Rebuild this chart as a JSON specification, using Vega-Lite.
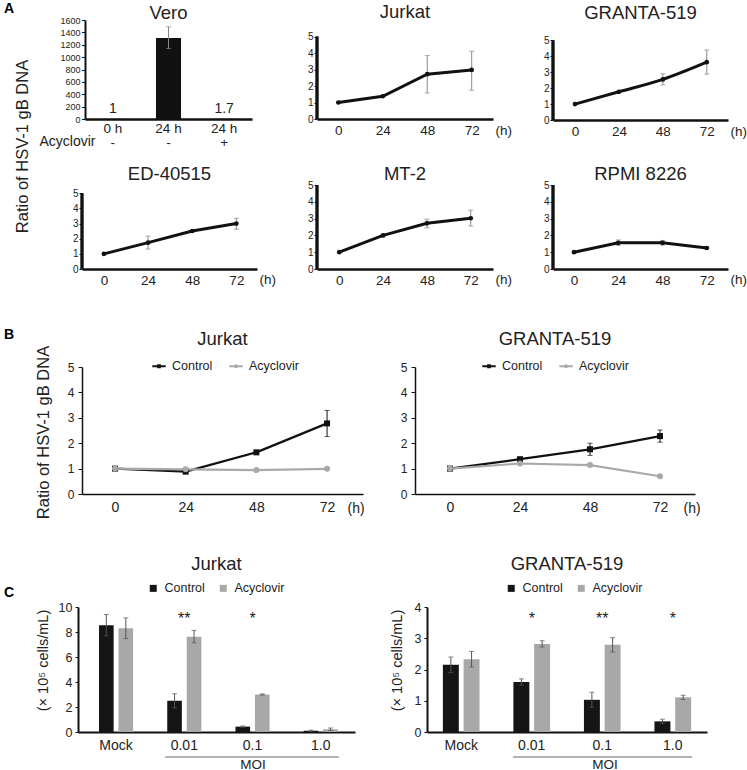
{
 "$schema": "https://vega.github.io/schema/vega-lite/v6.json",
 "padding": {"left": 4, "top": 2, "right": 0, "bottom": 0},
 "spacing": 0,
 "bounds": "flush",
 "align": "none",
 "resolve": {"scale": {"color": "independent", "xOffset": "independent"}, "legend": {"color": "independent"}},
 "config": {
  "view": {"stroke": null},
  "font": "Liberation Sans",
  "title": {"fontSize": 18.5, "fontWeight": "normal", "color": "#222", "baseline": "alphabetic", "frame": "group", "font": "Liberation Sans"},
  "axis": {"grid": false, "labelOverlap": false, "tickCount": 20, "domainColor": "#111", "tickColor": "#111", "labelColor": "#222", "titleColor": "#222", "titleFontWeight": "normal", "labelFont": "Liberation Sans", "titleFont": "Liberation Sans"},
  "legend": {"labelFont": "Liberation Sans", "labelColor": "#222", "padding": 0}
 },
 "vconcat": [
 {
 "hconcat": [
  {"width": 81, "height": 1, "data": {"values": []}, "mark": "point", "title": {"text": "A", "anchor": "start", "fontSize": 14, "fontWeight": "bold", "offset": 4, "color": "#000"}},
  {
   "width": 167, "height": 99,
   "title": {"text": "Vero", "offset": -6.5},
   "data": {"values": [
    {"c": "c1", "v": 1, "lab": "1"},
    {"c": "c2", "v": 1310, "lo": 1140, "hi": 1490},
    {"c": "c3", "v": 1.7, "lab": "1.7"}
   ]},
   "encoding": {"x": {"field": "c", "type": "nominal", "sort": null, "scale": {"paddingInner": 0.55, "paddingOuter": 0.275},
     "axis": {"labelAngle": 0, "ticks": false, "domainWidth": 2.5, "labelPadding": 2, "labelFontSize": 13.5, "labelLineHeight": 14, "labelBaseline": "top", "labelOverlap": false,
      "labelExpr": "datum.value == 'c1' ? ['0 h', '-'] : datum.value == 'c2' ? ['24 h', '-'] : ['24 h', '+']",
      "title": "Acyclovir", "titleX": 10, "titleY": 22, "titleAlign": "right", "titleBaseline": "middle", "titleFontSize": 14}}},
   "layer": [
    {"mark": {"type": "bar", "color": "#111"},
     "encoding": {"y": {"field": "v", "type": "quantitative", "scale": {"domain": [0, 1600], "nice": false},
      "axis": {"values": [0, 200, 400, 600, 800, 1000, 1200, 1400, 1600], "tickCount": 20, "format": "d", "labelOverlap": false, "domainWidth": 2, "tickSize": 3.5, "labelFontSize": 9, "labelPadding": 1.5,
       "title": "Ratio of HSV-1 gB DNA", "titleX": -63, "titleY": 126, "titleAngle": 270, "titleAlign": "center", "titleBaseline": "middle", "titleFontSize": 16.5}}}},
    {"transform": [{"filter": "isValid(datum.lo)"}], "mark": {"type": "rule", "color": "#888", "strokeWidth": 1},
     "encoding": {"y": {"field": "lo", "type": "quantitative"}, "y2": {"field": "hi"}}},
    {"transform": [{"filter": "isValid(datum.lo)"}, {"fold": ["lo", "hi"], "as": ["k", "ev"]}], "mark": {"type": "tick", "orient": "horizontal", "size": 5, "thickness": 1, "color": "#888"},
     "encoding": {"y": {"field": "ev", "type": "quantitative"}}},
    {"transform": [{"filter": "isValid(datum.lab)"}], "mark": {"type": "text", "fontSize": 14, "dy": -5.5, "baseline": "alphabetic", "color": "#222"},
     "encoding": {"y": {"field": "v", "type": "quantitative"}, "text": {"field": "lab"}}}
   ]
  },
  {"width": 65, "height": 1, "data": {"values": []}, "mark": "point"},
  {
   "width": 176, "height": 99,
   "title": {"text": "Jurkat", "offset": -1.3},
   "data": {"values": [{"t": 0, "v": 1}, {"t": 24, "v": 1.38}, {"t": 48, "v": 2.72, "lo": 1.58, "hi": 3.85}, {"t": 72, "v": 2.98, "lo": 1.74, "hi": 4.11}]},
   "encoding": {"x": {"field": "t", "type": "quantitative", "scale": {"domain": [-11.5, 83.5], "nice": false, "zero": false},
     "axis": {"values": [0, 24, 48, 72], "ticks": false, "domainWidth": 2.5, "labelFontSize": 13.5, "labelPadding": 4, "labelFlush": false, "labelOverlap": false, "title": "(h)", "titleX": 178, "titleY": 11, "titleAlign": "left", "titleBaseline": "middle", "titleFontSize": 13.5}}},
   "layer": [
    {"mark": {"type": "rule", "strokeWidth": 2.5, "color": "#111"},
     "encoding": {"x": {"datum": -11.5, "type": "quantitative"}, "y": {"datum": 0, "type": "quantitative", "scale": {"domain": [0, 6.01], "nice": false},
      "axis": {"values": [0, 1, 2, 3, 4, 5], "format": "d", "tickCount": 20, "labelOverlap": false, "domain": false, "tickSize": 3, "labelFontSize": 10, "labelPadding": 1, "title": null}}, "y2": {"datum": 5}}},
    {"transform": [{"filter": "isValid(datum.lo)"}], "mark": {"type": "rule", "color": "#888", "strokeWidth": 1},
     "encoding": {"y": {"field": "lo", "type": "quantitative"}, "y2": {"field": "hi"}}},
    {"transform": [{"filter": "isValid(datum.lo)"}, {"fold": ["lo", "hi"], "as": ["k", "ev"]}], "mark": {"type": "tick", "orient": "horizontal", "size": 5, "thickness": 1, "color": "#888"},
     "encoding": {"y": {"field": "ev", "type": "quantitative"}}},
    {"mark": {"type": "line", "strokeWidth": 3, "color": "#111", "point": {"filled": true, "size": 22, "color": "#111"}},
     "encoding": {"y": {"field": "v", "type": "quantitative"}}}
   ]
  },
  {"width": 60, "height": 1, "data": {"values": []}, "mark": "point"},
  {
   "width": 175, "height": 100,
   "title": {"text": "GRANTA-519", "offset": -2},
   "data": {"values": [{"t": 0, "v": 1}, {"t": 24, "v": 1.77}, {"t": 48, "v": 2.55, "lo": 2.2, "hi": 2.9}, {"t": 72, "v": 3.63, "lo": 2.88, "hi": 4.4}]},
   "encoding": {"x": {"field": "t", "type": "quantitative", "scale": {"domain": [-12, 83.6], "nice": false, "zero": false},
     "axis": {"values": [0, 24, 48, 72], "ticks": false, "domainWidth": 2.5, "labelFontSize": 13.5, "labelPadding": 4, "labelFlush": false, "labelOverlap": false, "title": "(h)", "titleX": 177, "titleY": 11, "titleAlign": "left", "titleBaseline": "middle", "titleFontSize": 13.5}}},
   "layer": [
    {"mark": {"type": "rule", "strokeWidth": 2.5, "color": "#111"},
     "encoding": {"x": {"datum": -12, "type": "quantitative"}, "y": {"datum": 0, "type": "quantitative", "scale": {"domain": [0, 6.28], "nice": false},
      "axis": {"values": [0, 1, 2, 3, 4, 5], "format": "d", "tickCount": 20, "labelOverlap": false, "domain": false, "tickSize": 3, "labelFontSize": 10, "labelPadding": 1, "title": null}}, "y2": {"datum": 5}}},
    {"transform": [{"filter": "isValid(datum.lo)"}], "mark": {"type": "rule", "color": "#888", "strokeWidth": 1},
     "encoding": {"y": {"field": "lo", "type": "quantitative"}, "y2": {"field": "hi"}}},
    {"transform": [{"filter": "isValid(datum.lo)"}, {"fold": ["lo", "hi"], "as": ["k", "ev"]}], "mark": {"type": "tick", "orient": "horizontal", "size": 5, "thickness": 1, "color": "#888"},
     "encoding": {"y": {"field": "ev", "type": "quantitative"}}},
    {"mark": {"type": "line", "strokeWidth": 3, "color": "#111", "interpolate": "monotone", "point": {"filled": true, "size": 22, "color": "#111"}},
     "encoding": {"y": {"field": "v", "type": "quantitative"}}}
   ]
  }
 ],
 "spacing": 0, "bounds": "flush", "align": "none"
 },
 {"width": 1, "height": 165, "data": {"values": []}, "mark": "point"},
 {
 "hconcat": [
  {"width": 78, "height": 1, "data": {"values": []}, "mark": "point"},
  {
   "width": 175, "height": 84,
   "title": {"text": "ED-40515", "offset": 2},
   "data": {"values": [{"t": 0, "v": 1}, {"t": 24, "v": 1.74, "lo": 1.32, "hi": 2.17}, {"t": 48, "v": 2.51, "lo": 2.45, "hi": 2.57}, {"t": 72, "v": 3.0, "lo": 2.63, "hi": 3.35}]},
   "encoding": {"x": {"field": "t", "type": "quantitative", "scale": {"domain": [-11.9, 83.2], "nice": false, "zero": false},
     "axis": {"values": [0, 24, 48, 72], "ticks": false, "domainWidth": 2.5, "labelFontSize": 13.5, "labelPadding": 4, "labelFlush": false, "labelOverlap": false, "title": "(h)", "titleX": 177, "titleY": 10, "titleAlign": "left", "titleBaseline": "middle", "titleFontSize": 13.5}}},
   "layer": [
    {"mark": {"type": "rule", "strokeWidth": 2.5, "color": "#111"},
     "encoding": {"x": {"datum": -11.9, "type": "quantitative"}, "y": {"datum": 0, "type": "quantitative", "scale": {"domain": [0, 5.55], "nice": false},
      "axis": {"values": [0, 1, 2, 3, 4, 5], "format": "d", "tickCount": 20, "labelOverlap": false, "domain": false, "tickSize": 3, "labelFontSize": 10, "labelPadding": 1, "title": null}}, "y2": {"datum": 5}}},
    {"transform": [{"filter": "isValid(datum.lo)"}], "mark": {"type": "rule", "color": "#888", "strokeWidth": 1},
     "encoding": {"y": {"field": "lo", "type": "quantitative"}, "y2": {"field": "hi"}}},
    {"transform": [{"filter": "isValid(datum.lo)"}, {"fold": ["lo", "hi"], "as": ["k", "ev"]}], "mark": {"type": "tick", "orient": "horizontal", "size": 5, "thickness": 1, "color": "#888"},
     "encoding": {"y": {"field": "ev", "type": "quantitative"}}},
    {"mark": {"type": "line", "strokeWidth": 3, "color": "#111", "point": {"filled": true, "size": 22, "color": "#111"}},
     "encoding": {"y": {"field": "v", "type": "quantitative"}}}
   ]
  },
  {"width": 60, "height": 1, "data": {"values": []}, "mark": "point"},
  {
   "width": 176, "height": 84,
   "title": {"text": "MT-2", "offset": -3},
   "data": {"values": [{"t": 0, "v": 1}, {"t": 24, "v": 2.0, "lo": 1.92, "hi": 2.08}, {"t": 48, "v": 2.72, "lo": 2.45, "hi": 2.97}, {"t": 72, "v": 3.02, "lo": 2.56, "hi": 3.5}]},
   "encoding": {"x": {"field": "t", "type": "quantitative", "scale": {"domain": [-12.2, 84.2], "nice": false, "zero": false},
     "axis": {"values": [0, 24, 48, 72], "ticks": false, "domainWidth": 2.5, "labelFontSize": 13.5, "labelPadding": 4, "labelFlush": false, "labelOverlap": false, "title": "(h)", "titleX": 178, "titleY": 10, "titleAlign": "left", "titleBaseline": "middle", "titleFontSize": 13.5}}},
   "layer": [
    {"mark": {"type": "rule", "strokeWidth": 2.5, "color": "#111"},
     "encoding": {"x": {"datum": -12.2, "type": "quantitative"}, "y": {"datum": 0, "type": "quantitative", "scale": {"domain": [0, 5], "nice": false},
      "axis": {"values": [0, 1, 2, 3, 4, 5], "format": "d", "tickCount": 20, "labelOverlap": false, "domain": false, "tickSize": 3, "labelFontSize": 10, "labelPadding": 1, "title": null}}, "y2": {"datum": 5}}},
    {"transform": [{"filter": "isValid(datum.lo)"}], "mark": {"type": "rule", "color": "#888", "strokeWidth": 1},
     "encoding": {"y": {"field": "lo", "type": "quantitative"}, "y2": {"field": "hi"}}},
    {"transform": [{"filter": "isValid(datum.lo)"}, {"fold": ["lo", "hi"], "as": ["k", "ev"]}], "mark": {"type": "tick", "orient": "horizontal", "size": 5, "thickness": 1, "color": "#888"},
     "encoding": {"y": {"field": "ev", "type": "quantitative"}}},
    {"mark": {"type": "line", "strokeWidth": 3, "color": "#111", "point": {"filled": true, "size": 22, "color": "#111"}},
     "encoding": {"y": {"field": "v", "type": "quantitative"}}}
   ]
  },
  {"width": 60, "height": 1, "data": {"values": []}, "mark": "point"},
  {
   "width": 175, "height": 84,
   "title": {"text": "RPMI 8226", "offset": -3},
   "data": {"values": [{"t": 0, "v": 1}, {"t": 24, "v": 1.56, "lo": 1.4, "hi": 1.73}, {"t": 48, "v": 1.56, "lo": 1.42, "hi": 1.7}, {"t": 72, "v": 1.25, "lo": 1.2, "hi": 1.3}]},
   "encoding": {"x": {"field": "t", "type": "quantitative", "scale": {"domain": [-11.4, 83.5], "nice": false, "zero": false},
     "axis": {"values": [0, 24, 48, 72], "ticks": false, "domainWidth": 2.5, "labelFontSize": 13.5, "labelPadding": 4, "labelFlush": false, "labelOverlap": false, "title": "(h)", "titleX": 177, "titleY": 10, "titleAlign": "left", "titleBaseline": "middle", "titleFontSize": 13.5}}},
   "layer": [
    {"mark": {"type": "rule", "strokeWidth": 2.5, "color": "#111"},
     "encoding": {"x": {"datum": -11.4, "type": "quantitative"}, "y": {"datum": 0, "type": "quantitative", "scale": {"domain": [0, 5], "nice": false},
      "axis": {"values": [0, 1, 2, 3, 4, 5], "format": "d", "tickCount": 20, "labelOverlap": false, "domain": false, "tickSize": 3, "labelFontSize": 10, "labelPadding": 1, "title": null}}, "y2": {"datum": 5}}},
    {"transform": [{"filter": "isValid(datum.lo)"}], "mark": {"type": "rule", "color": "#888", "strokeWidth": 1},
     "encoding": {"y": {"field": "lo", "type": "quantitative"}, "y2": {"field": "hi"}}},
    {"transform": [{"filter": "isValid(datum.lo)"}, {"fold": ["lo", "hi"], "as": ["k", "ev"]}], "mark": {"type": "tick", "orient": "horizontal", "size": 5, "thickness": 1, "color": "#888"},
     "encoding": {"y": {"field": "ev", "type": "quantitative"}}},
    {"mark": {"type": "line", "strokeWidth": 3, "color": "#111", "point": {"filled": true, "size": 22, "color": "#111"}},
     "encoding": {"y": {"field": "v", "type": "quantitative"}}}
   ]
  }
 ],
 "spacing": 0, "bounds": "flush", "align": "none"
 },
 {"width": 1, "height": 182, "data": {"values": []}, "mark": "point"},
 {
 "hconcat": [
  {"width": 78, "height": 1, "data": {"values": []}, "mark": "point", "title": {"text": "B", "anchor": "start", "fontSize": 14, "fontWeight": "bold", "offset": 24.7, "color": "#000"}},
  {
   "width": 281, "height": 127,
   "title": {"text": "Jurkat", "offset": -3},
   "data": {"values": [
    {"t": 0, "s": "Control", "v": 1.0, "lo": 0.96, "hi": 1.04},
    {"t": 24, "s": "Control", "v": 0.88, "lo": 0.84, "hi": 0.92},
    {"t": 48, "s": "Control", "v": 1.64, "lo": 1.57, "hi": 1.71},
    {"t": 72, "s": "Control", "v": 2.78, "lo": 2.26, "hi": 3.29},
    {"t": 0, "s": "Acyclovir", "v": 1.0, "lo": 0.96, "hi": 1.04},
    {"t": 24, "s": "Acyclovir", "v": 0.97, "lo": 0.94, "hi": 1.0},
    {"t": 48, "s": "Acyclovir", "v": 0.94, "lo": 0.91, "hi": 0.97},
    {"t": 72, "s": "Acyclovir", "v": 0.99, "lo": 0.95, "hi": 1.03}
   ]},
   "encoding": {
    "x": {"field": "t", "type": "quantitative", "scale": {"domain": [-11.2, 84.2], "nice": false, "zero": false},
     "axis": {"values": [0, 24, 48, 72], "ticks": false, "domainWidth": 1.5, "labelFontSize": 14, "labelPadding": 6, "labelFlush": false, "labelOverlap": false, "title": "(h)", "titleX": 265, "titleY": 14, "titleAlign": "left", "titleBaseline": "middle", "titleFontSize": 14}},
    "color": {"field": "s", "type": "nominal", "scale": {"domain": ["Control", "Acyclovir"], "range": ["#111111", "#a9a9a9"]},
     "legend": {"orient": "none", "legendX": 70, "legendY": -8, "direction": "horizontal", "title": null, "labelFontSize": 12.5, "labelOffset": 6, "columnPadding": 16, "symbolSize": 180,
      "encode": {"symbols": {"update": {
       "shape": {"signal": "datum.value === 'Control' ? 'M-1,-0.14H1V0.14H-1Z M-0.28,-0.28H0.28V0.28H-0.28Z' : 'M-1,-0.16H1V0.16H-1Z M-0.3,0A0.3,0.3 0 1,1 0.3,0A0.3,0.3 0 1,1 -0.3,0Z'"},
       "fill": {"signal": "datum.value === 'Control' ? '#111111' : '#a9a9a9'"},
       "stroke": {"value": "transparent"}, "strokeWidth": {"value": 0}, "opacity": {"value": 1}}}}}}
   },
   "layer": [
    {"mark": {"type": "rule", "strokeWidth": 1},
     "encoding": {"y": {"field": "lo", "type": "quantitative", "scale": {"domain": [0, 5], "nice": false},
      "axis": {"values": [0, 1, 2, 3, 4, 5], "format": "d", "tickCount": 20, "labelOverlap": false, "domainWidth": 1.5, "tickSize": 4, "labelFontSize": 12, "labelPadding": 4,
       "title": "Ratio of HSV-1 gB DNA", "titleX": -39, "titleY": 65, "titleAngle": 270, "titleAlign": "center", "titleBaseline": "middle", "titleFontSize": 16.5}}, "y2": {"field": "hi"}}},
    {"transform": [{"fold": ["lo", "hi"], "as": ["k", "ev"]}], "mark": {"type": "tick", "orient": "horizontal", "size": 5, "thickness": 1},
     "encoding": {"y": {"field": "ev", "type": "quantitative"}}},
    {"mark": {"type": "line", "strokeWidth": 2.2},
     "encoding": {"y": {"field": "v", "type": "quantitative"}}},
    {"transform": [{"filter": "datum.s === 'Control'"}], "mark": {"type": "point", "filled": true, "shape": "square", "size": 36, "opacity": 1},
     "encoding": {"y": {"field": "v", "type": "quantitative"}}},
    {"transform": [{"filter": "datum.s === 'Acyclovir'"}], "mark": {"type": "point", "filled": true, "shape": "circle", "size": 36, "opacity": 1},
     "encoding": {"y": {"field": "v", "type": "quantitative"}}}
   ]
  },
  {"width": 52, "height": 1, "data": {"values": []}, "mark": "point"},
  {
   "width": 280, "height": 127,
   "title": {"text": "GRANTA-519", "offset": 11},
   "data": {"values": [
    {"t": 0, "s": "Control", "v": 1.0, "lo": 0.96, "hi": 1.04},
    {"t": 24, "s": "Control", "v": 1.37, "lo": 1.32, "hi": 1.42},
    {"t": 48, "s": "Control", "v": 1.76, "lo": 1.52, "hi": 2.0},
    {"t": 72, "s": "Control", "v": 2.28, "lo": 2.04, "hi": 2.52},
    {"t": 0, "s": "Acyclovir", "v": 1.0, "lo": 0.96, "hi": 1.04},
    {"t": 24, "s": "Acyclovir", "v": 1.2, "lo": 1.15, "hi": 1.25},
    {"t": 48, "s": "Acyclovir", "v": 1.14, "lo": 1.07, "hi": 1.21},
    {"t": 72, "s": "Acyclovir", "v": 0.7, "lo": 0.66, "hi": 0.74}
   ]},
   "encoding": {
    "x": {"field": "t", "type": "quantitative", "scale": {"domain": [-12, 84], "nice": false, "zero": false},
     "axis": {"values": [0, 24, 48, 72], "ticks": false, "domainWidth": 1.5, "labelFontSize": 14, "labelPadding": 6, "labelFlush": false, "labelOverlap": false, "title": "(h)", "titleX": 268, "titleY": 14, "titleAlign": "left", "titleBaseline": "middle", "titleFontSize": 14}},
    "color": {"field": "s", "type": "nominal", "scale": {"domain": ["Control", "Acyclovir"], "range": ["#111111", "#a9a9a9"]},
     "legend": {"orient": "none", "legendX": 67, "legendY": -8, "direction": "horizontal", "title": null, "labelFontSize": 12.5, "labelOffset": 6, "columnPadding": 16, "symbolSize": 180,
      "encode": {"symbols": {"update": {
       "shape": {"signal": "datum.value === 'Control' ? 'M-1,-0.14H1V0.14H-1Z M-0.28,-0.28H0.28V0.28H-0.28Z' : 'M-1,-0.16H1V0.16H-1Z M-0.3,0A0.3,0.3 0 1,1 0.3,0A0.3,0.3 0 1,1 -0.3,0Z'"},
       "fill": {"signal": "datum.value === 'Control' ? '#111111' : '#a9a9a9'"},
       "stroke": {"value": "transparent"}, "strokeWidth": {"value": 0}, "opacity": {"value": 1}}}}}}
   },
   "layer": [
    {"mark": {"type": "rule", "strokeWidth": 1},
     "encoding": {"y": {"field": "lo", "type": "quantitative", "scale": {"domain": [0, 5], "nice": false},
      "axis": {"values": [0, 1, 2, 3, 4, 5], "format": "d", "tickCount": 20, "labelOverlap": false, "domainWidth": 1.5, "tickSize": 4, "labelFontSize": 12, "labelPadding": 4, "title": null}}, "y2": {"field": "hi"}}},
    {"transform": [{"fold": ["lo", "hi"], "as": ["k", "ev"]}], "mark": {"type": "tick", "orient": "horizontal", "size": 5, "thickness": 1},
     "encoding": {"y": {"field": "ev", "type": "quantitative"}}},
    {"mark": {"type": "line", "strokeWidth": 2.2},
     "encoding": {"y": {"field": "v", "type": "quantitative"}}},
    {"transform": [{"filter": "datum.s === 'Control'"}], "mark": {"type": "point", "filled": true, "shape": "square", "size": 36, "opacity": 1},
     "encoding": {"y": {"field": "v", "type": "quantitative"}}},
    {"transform": [{"filter": "datum.s === 'Acyclovir'"}], "mark": {"type": "point", "filled": true, "shape": "circle", "size": 36, "opacity": 1},
     "encoding": {"y": {"field": "v", "type": "quantitative"}}}
   ]
  }
 ],
 "spacing": 0, "bounds": "flush", "align": "none",
 "resolve": {"scale": {"color": "independent"}, "legend": {"color": "independent"}}
 },
 {"width": 1, "height": 240, "data": {"values": []}, "mark": "point"},
 {
 "hconcat": [
  {"width": 74, "height": 1, "data": {"values": []}, "mark": "point", "title": {"text": "C", "anchor": "start", "fontSize": 14, "fontWeight": "bold", "offset": 7, "color": "#000"}},
  {
   "width": 277, "height": 125,
   "title": {"text": "Jurkat", "offset": 9},
   "data": {"values": [
    {"m": "Mock", "s": "Control", "v": 8.55, "lo": 7.7, "hi": 9.4},
    {"m": "Mock", "s": "Acyclovir", "v": 8.3, "lo": 7.47, "hi": 9.13},
    {"m": "0.01", "s": "Control", "v": 2.5, "lo": 1.94, "hi": 3.06},
    {"m": "0.01", "s": "Acyclovir", "v": 7.63, "lo": 7.13, "hi": 8.13},
    {"m": "0.1", "s": "Control", "v": 0.43, "lo": 0.38, "hi": 0.48},
    {"m": "0.1", "s": "Acyclovir", "v": 3.0, "lo": 2.95, "hi": 3.05},
    {"m": "1.0", "s": "Control", "v": 0.1, "lo": 0.05, "hi": 0.15},
    {"m": "1.0", "s": "Acyclovir", "v": 0.22, "lo": 0.12, "hi": 0.32}
   ]},
   "encoding": {"x": {"field": "m", "type": "nominal", "scale": {"domain": ["Mock", "0.01", "0.1", "1.0"], "paddingInner": 0.5, "paddingOuter": 0.28, "align": 0.55},
     "axis": {"ticks": false, "domainWidth": 2, "labelAngle": 0, "labelFontSize": 14, "labelPadding": 6, "labelOverlap": false, "title": "MOI", "titleX": 174.5, "titleY": 32, "titleAlign": "center", "titleBaseline": "middle", "titleFontSize": 13.5}}},
   "layer": [
    {"mark": {"type": "bar"},
     "encoding": {"xOffset": {"field": "s", "type": "nominal", "scale": {"domain": ["Control", "Acyclovir"], "paddingInner": 0.25}},
      "y": {"field": "v", "type": "quantitative", "scale": {"domain": [0, 10], "nice": false},
       "axis": {"values": [0, 2, 4, 6, 8, 10], "format": "d", "tickCount": 20, "labelOverlap": false, "domainWidth": 2, "tickSize": 3, "labelFontSize": 12.5, "labelPadding": 3,
        "title": "(× 10⁵ cells/mL)", "titleX": -35, "titleY": 53, "titleAngle": 270, "titleAlign": "center", "titleBaseline": "middle", "titleFontSize": 14.5}},
      "color": {"field": "s", "type": "nominal", "scale": {"domain": ["Control", "Acyclovir"], "range": ["#151515", "#a8a8a8"]},
       "legend": {"orient": "none", "legendX": 69, "legendY": -25, "direction": "horizontal", "title": null, "symbolType": "square", "symbolSize": 49, "symbolStrokeWidth": 0, "labelFontSize": 12.5, "labelOffset": 5, "columnPadding": 12}}}},
    {"mark": {"type": "rule", "color": "#555", "strokeWidth": 1},
     "encoding": {"xOffset": {"field": "s", "type": "nominal"}, "y": {"field": "lo", "type": "quantitative"}, "y2": {"field": "hi"}}},
    {"transform": [{"fold": ["lo", "hi"], "as": ["k", "ev"]}], "mark": {"type": "tick", "orient": "horizontal", "size": 5, "thickness": 1, "color": "#555"},
     "encoding": {"xOffset": {"field": "s", "type": "nominal"}, "y": {"field": "ev", "type": "quantitative"}}},
    {"data": {"values": [{"m": "0.01", "star": "**"}, {"m": "0.1", "star": "*"}]},
     "mark": {"type": "text", "fontSize": 16, "baseline": "alphabetic", "color": "#222"},
     "encoding": {"y": {"datum": 8.64, "type": "quantitative"}, "text": {"field": "star"}}},
    {"data": {"values": [{"a": "0.01", "b": "1.0"}]},
     "mark": {"type": "rule", "color": "#666", "strokeWidth": 1, "xOffset": -19.3, "x2Offset": 18.3},
     "encoding": {"x": {"field": "a", "type": "nominal"}, "x2": {"field": "b"}, "y": {"datum": -2, "type": "quantitative"}}}
   ]
  },
  {"width": 72, "height": 1, "data": {"values": []}, "mark": "point"},
  {
   "width": 280, "height": 125,
   "title": {"text": "GRANTA-519", "offset": 9},
   "data": {"values": [
    {"m": "Mock", "s": "Control", "v": 2.15, "lo": 1.9, "hi": 2.4},
    {"m": "Mock", "s": "Acyclovir", "v": 2.33, "lo": 2.08, "hi": 2.58},
    {"m": "0.01", "s": "Control", "v": 1.6, "lo": 1.5, "hi": 1.7},
    {"m": "0.01", "s": "Acyclovir", "v": 2.82, "lo": 2.72, "hi": 2.92},
    {"m": "0.1", "s": "Control", "v": 1.03, "lo": 0.79, "hi": 1.27},
    {"m": "0.1", "s": "Acyclovir", "v": 2.79, "lo": 2.56, "hi": 3.02},
    {"m": "1.0", "s": "Control", "v": 0.34, "lo": 0.27, "hi": 0.41},
    {"m": "1.0", "s": "Acyclovir", "v": 1.11, "lo": 1.04, "hi": 1.18}
   ]},
   "encoding": {"x": {"field": "m", "type": "nominal", "scale": {"domain": ["Mock", "0.01", "0.1", "1.0"], "paddingInner": 0.48, "paddingOuter": 0.225},
     "axis": {"ticks": false, "domainWidth": 2, "labelAngle": 0, "labelFontSize": 14, "labelPadding": 6, "labelOverlap": false, "title": "MOI", "titleX": 177.5, "titleY": 32, "titleAlign": "center", "titleBaseline": "middle", "titleFontSize": 13.5}}},
   "layer": [
    {"mark": {"type": "bar"},
     "encoding": {"xOffset": {"field": "s", "type": "nominal", "scale": {"domain": ["Control", "Acyclovir"], "paddingInner": 0.23}},
      "y": {"field": "v", "type": "quantitative", "scale": {"domain": [0, 4], "nice": false},
       "axis": {"values": [0, 1, 2, 3, 4], "format": "d", "tickCount": 20, "labelOverlap": false, "domainWidth": 2, "tickSize": 3, "labelFontSize": 12.5, "labelPadding": 3,
        "title": "(× 10⁵ cells/mL)", "titleX": -30, "titleY": 53, "titleAngle": 270, "titleAlign": "center", "titleBaseline": "middle", "titleFontSize": 14.5}},
      "color": {"field": "s", "type": "nominal", "scale": {"domain": ["Control", "Acyclovir"], "range": ["#151515", "#a8a8a8"]},
       "legend": {"orient": "none", "legendX": 78, "legendY": -25, "direction": "horizontal", "title": null, "symbolType": "square", "symbolSize": 49, "symbolStrokeWidth": 0, "labelFontSize": 12.5, "labelOffset": 5, "columnPadding": 12}}}},
    {"mark": {"type": "rule", "color": "#555", "strokeWidth": 1},
     "encoding": {"xOffset": {"field": "s", "type": "nominal"}, "y": {"field": "lo", "type": "quantitative"}, "y2": {"field": "hi"}}},
    {"transform": [{"fold": ["lo", "hi"], "as": ["k", "ev"]}], "mark": {"type": "tick", "orient": "horizontal", "size": 5, "thickness": 1, "color": "#555"},
     "encoding": {"xOffset": {"field": "s", "type": "nominal"}, "y": {"field": "ev", "type": "quantitative"}}},
    {"data": {"values": [{"m": "0.01", "star": "*"}, {"m": "0.1", "star": "**"}, {"m": "1.0", "star": "*"}]},
     "mark": {"type": "text", "fontSize": 16, "baseline": "alphabetic", "color": "#222"},
     "encoding": {"y": {"datum": 3.46, "type": "quantitative"}, "text": {"field": "star"}}},
    {"data": {"values": [{"a": "0.01", "b": "1.0"}]},
     "mark": {"type": "rule", "color": "#666", "strokeWidth": 1, "xOffset": -18.7, "x2Offset": 19.3},
     "encoding": {"x": {"field": "a", "type": "nominal"}, "x2": {"field": "b"}, "y": {"datum": -0.8, "type": "quantitative"}}}
   ]
  }
 ],
 "spacing": 0, "bounds": "flush", "align": "none",
 "resolve": {"scale": {"color": "independent", "xOffset": "independent"}, "legend": {"color": "independent"}}
 }
 ]
}
